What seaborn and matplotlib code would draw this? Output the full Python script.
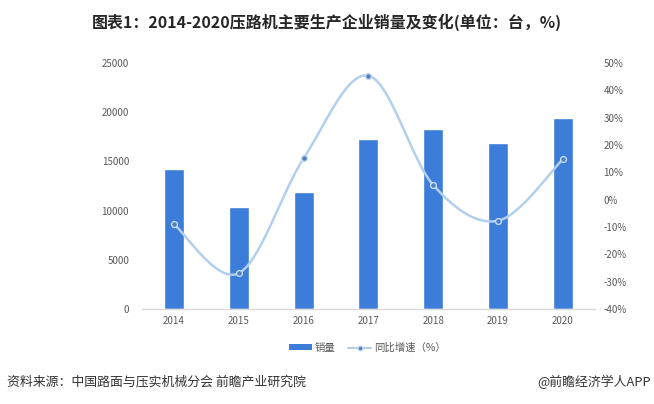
import numpy as np
import pandas as pd
import matplotlib
matplotlib.use("Agg")
import matplotlib.pyplot as plt
from matplotlib.lines import Line2D
from matplotlib.patches import Patch
import seaborn as sns

years = ["2014", "2015", "2016", "2017", "2018", "2019", "2020"]
sales = [14200, 10400, 11900, 17300, 18300, 16900, 19450]
growth = [-9.0, -26.9, 15.1, 45.4, 5.4, -7.7, 14.8]
left_ticks = [0, 5000, 10000, 15000, 20000, 25000]
right_ticks = [-40, -30, -20, -10, 0, 10, 20, 30, 40, 50]

sns.set_theme(style="white")
plt.rcParams["font.family"] = ["Noto Sans CJK SC", "DejaVu Sans"]

BAR = "#3b7dd8"
LINE = "#b3cfee"
TICK = "#595959"

fig = plt.figure(figsize=(6.54, 4.04), dpi=100)
ax = fig.add_axes([0.2165, 0.235, 0.6935, 0.609])

df = pd.DataFrame({"year": years, "sales": sales, "growth": growth})
sns.barplot(data=df, x="year", y="sales", color=BAR, width=0.31, ax=ax,
            saturation=1, zorder=2)
ax.set_ylim(0, 25000)
ax.set_yticks(left_ticks)
ax.set_yticklabels([str(v) for v in left_ticks])
ax.set_xlim(-0.5, len(years) - 0.5)
ax.set_xlabel("")
ax.set_ylabel("")
for s in ["top", "right", "left"]:
    ax.spines[s].set_visible(False)
ax.spines["bottom"].set_color("#d9d9d9")
ax.spines["bottom"].set_linewidth(1.0)
ax.tick_params(axis="both", length=0, labelsize=7, colors=TICK)
ax.tick_params(axis="y", pad=9)
ax.tick_params(axis="x", pad=5)

ax2 = ax.twinx()
# smoothed (Excel-style) curve through the data points
xs = np.arange(len(years), dtype=float)
ys = np.array(growth, dtype=float)
P = np.column_stack([xs, ys])
Pext = np.vstack([P[0], P, P[-1]])
curve = []
t = np.linspace(0, 1, 30)
for i in range(1, len(Pext) - 2):
    p0, p1, p2, p3 = Pext[i - 1], Pext[i], Pext[i + 1], Pext[i + 2]
    b1 = p1 + (p2 - p0) / 6.0
    b2 = p2 - (p3 - p1) / 6.0
    seg = ((1 - t) ** 3)[:, None] * p1 + (3 * (1 - t) ** 2 * t)[:, None] * b1 \
        + (3 * (1 - t) * t ** 2)[:, None] * b2 + (t ** 3)[:, None] * p2
    curve.append(seg if i == 1 else seg[1:])
curve = np.vstack(curve)
sns.lineplot(x=curve[:, 0], y=curve[:, 1], ax=ax2, color=LINE, linewidth=1.8,
             sort=False, zorder=3)
ax2.plot(xs, ys, linestyle="none", marker="o", markersize=4.2,
         markerfacecolor="#4f7fbd", markeredgecolor="#c5dbf2",
         markeredgewidth=1.0, zorder=4)
ax2.set_ylim(-40, 50)
ax2.set_yticks(right_ticks)
ax2.set_yticklabels([f"{v}%" for v in right_ticks])
ax2.set_ylabel("")
for s in ["top", "right", "left", "bottom"]:
    ax2.spines[s].set_visible(False)
ax2.tick_params(axis="y", length=0, labelsize=7, colors=TICK, pad=6)
ax2.set_xlim(-0.5, len(years) - 0.5)

fig.text(0.5, 0.945, "图表1：2014-2020压路机主要生产企业销量及变化(单位：台，%)",
         ha="center", va="center", fontsize=11.5, fontweight="bold", color="#262626")

handles = [Patch(facecolor=BAR, edgecolor="none"),
           Line2D([0], [0], color=LINE, linewidth=1.5, marker="o", markersize=3.5,
                  markerfacecolor="#4f7fbd", markeredgecolor="#c5dbf2")]
fig.legend(handles, ["销量", "同比增速（%）"], loc="center",
           bbox_to_anchor=(0.562, 0.139), ncol=2, frameon=False, fontsize=7.5,
           handlelength=2.2, handleheight=0.5, columnspacing=1.2, handletextpad=0.3,
           labelcolor=TICK)

fig.text(0.011, 0.054, "资料来源：中国路面与压实机械分会 前瞻产业研究院",
         ha="left", va="center", fontsize=9.3, color="#333333")
fig.text(0.995, 0.054, "@前瞻经济学人APP",
         ha="right", va="center", fontsize=9.3, color="#333333")

fig.savefig("out.png", dpi=100)
